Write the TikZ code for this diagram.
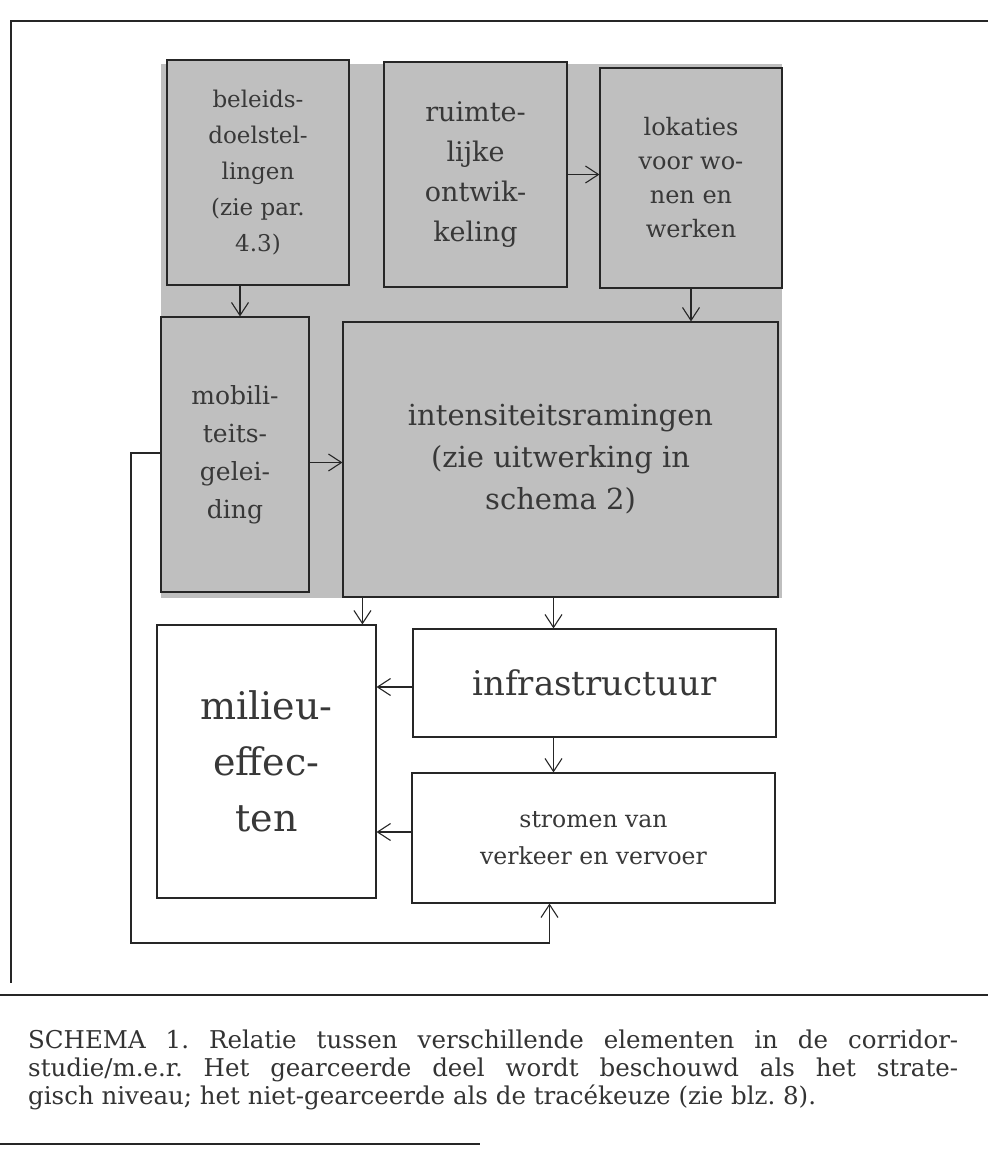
\documentclass[tikz,border=0pt]{standalone}
\usepackage{fontspec}
\setmainfont{DejaVu Serif}
\usetikzlibrary{arrows.meta,calc}
\frenchspacing
\begin{document}
\begin{tikzpicture}[x=1pt,y=-1pt,
  lin/.style={draw=black!85, line width=1.1pt},
  box/.style={lin, inner sep=0pt, align=center, text=black!78},
  shadedbox/.style={box, fill=black!25},
  plainbox/.style={box, fill=white},
  arr/.style={lin, -{Straight Barb[length=13pt,width=17pt,line width=1.1pt]}},
  captext/.style={anchor=base west, inner sep=0pt, text=black!80, font=\fontsize{24.5}{28}\selectfont},
]
\useasboundingbox (0,0) rectangle (988,1154);

% frame lines
\coordinate (tl) at (11,21);
\coordinate (tr) at (988,21);
\coordinate (bl) at (11,983);
\draw[lin] (tr) -- (tl) -- (bl);
\coordinate (s1) at (0,995);
\coordinate (s2) at (988,995);
\draw[lin] (s1) -- (s2);
\coordinate (b1) at (0,1144);
\coordinate (b2) at (480,1144);
\draw[lin] (b1) -- (b2);

% shaded (strategic) region
\fill[black!25] (161,64) rectangle (782,598);

% shaded boxes
\node[shadedbox, minimum width=182pt, minimum height=225pt, font=\fontsize{23}{36}\selectfont] (bel) at (258,172.5)
  {beleids-\\doelstel-\\lingen\\(zie par.\\4.3)};
\node[shadedbox, minimum width=183pt, minimum height=225pt, font=\fontsize{27}{40}\selectfont] (rui) at (475.5,174.5)
  {ruimte-\\lijke\\ontwik-\\keling};
\node[shadedbox, minimum width=182pt, minimum height=220pt, font=\fontsize{24}{34}\selectfont] (lok) at (691,178)
  {lokaties\\voor wo-\\nen en\\werken};
\node[shadedbox, minimum width=148pt, minimum height=275pt, font=\fontsize{25}{38}\selectfont] (mob) at (235,454.5)
  {mobili-\\teits-\\gelei-\\ding};
\node[shadedbox, minimum width=435pt, minimum height=275pt, font=\fontsize{29}{42}\selectfont] (int) at (560.5,459.5)
  {intensiteitsramingen\\(zie uitwerking in\\schema 2)};

% plain boxes
\node[plainbox, minimum width=219pt, minimum height=273pt, font=\fontsize{38}{56}\selectfont] (mil) at (266.5,761.5)
  {milieu-\\effec-\\ten};
\node[plainbox, minimum width=363pt, minimum height=108pt, font=\fontsize{34}{40}\selectfont] (inf) at (594.5,683)
  {infrastructuur};
\node[plainbox, minimum width=363pt, minimum height=130pt, font=\fontsize{23.5}{37}\selectfont] (str) at (593.5,838)
  {stromen van\\verkeer en vervoer};

% connectors
\coordinate (a1) at ([xshift=5pt]mob.north);
\draw[arr] (bel.south -| a1) -- (a1);
\draw[arr] (rui.east) -- (rui.east -| lok.west);
\draw[arr] (lok.south) -- (lok.south |- int.north);
\coordinate (a2) at ([yshift=-8pt]mob.east);
\draw[arr] (a2) -- (a2 -| int.west);
\coordinate (a3) at ([xshift=20pt]int.south west);
\draw[arr] (a3) -- (a3 |- mil.north);
\coordinate (a4) at ([xshift=-7pt]int.south);
\draw[arr] (a4) -- (a4 |- inf.north);
\coordinate (a5) at ([yshift=-4pt]inf.west);
\draw[arr] (a5) -- (a5 -| mil.east);
\coordinate (a6) at (a4 |- inf.south);
\draw[arr] (a6) -- (a6 |- str.north);
\coordinate (a7) at ([yshift=6pt]str.west);
\draw[arr] (a7) -- (a7 -| mil.east);
\coordinate (a8) at ([yshift=1.5pt]mob.west);
\coordinate (fb) at (131,943);
\coordinate (a9) at ([xshift=-44pt]str.south);
\draw[arr] (a8) -| (fb) -| (a9);

% caption
\node[captext] (cap1) at (28,1048) {\makebox[930pt][s]{SCHEMA 1. Relatie tussen verschillende elementen in de corridor-}};
\node[captext] (cap2) at (28,1076) {\makebox[930pt][s]{studie/m.e.r. Het gearceerde deel wordt beschouwd als het strate-}};
\node[captext] (cap3) at (28,1104) {gisch niveau; het niet-gearceerde als de tracékeuze (zie blz. 8).};
\end{tikzpicture}
\end{document}
